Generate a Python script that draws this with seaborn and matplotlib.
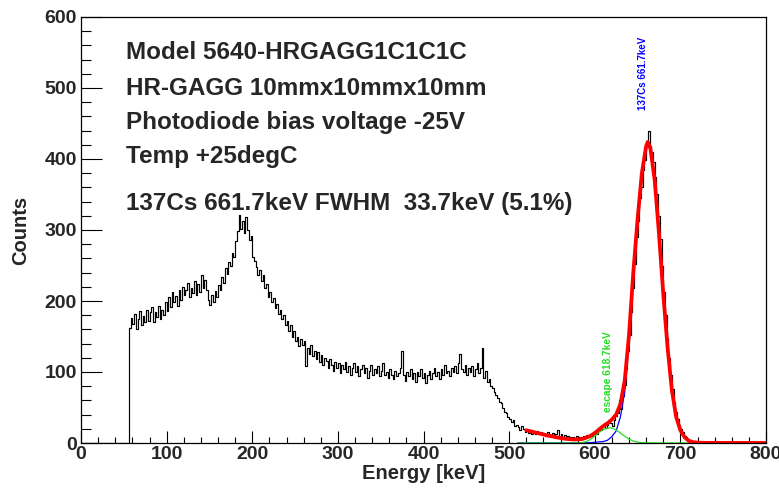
import matplotlib
matplotlib.use("Agg")
import numpy as np
import pandas as pd
import seaborn as sb
import matplotlib.pyplot as plt
from matplotlib.ticker import MultipleLocator

# --------------- 137Cs spectrum, HR-GAGG + photodiode --------------- #
BIN_WIDTH = 2  # keV

# counts per 2 keV bin, 0..800 keV (first 28 bins are empty, below threshold)
counts = [0] * 28 + [
    162, 176, 168, 181, 160, 174, 186, 166, 179, 171,   # 56-76
    188, 172, 184, 192, 170, 185, 178, 193, 174, 188,   # 76-96
    180, 199, 186, 205, 192, 212, 198, 207, 193, 215,   # 96-116
    202, 220, 208, 216, 226, 205, 219, 211, 228, 209,   # 116-136
    224, 213, 236, 218, 230, 215, 202, 194, 208, 198,   # 136-156
    214, 205, 222, 216, 234, 226, 246, 238, 255, 250,   # 156-176
    268, 262, 284, 298, 321, 302, 312, 296, 318, 300,   # 176-196
    286, 292, 262, 256, 248, 236, 244, 228, 236, 218,   # 196-216
    224, 206, 212, 198, 204, 190, 196, 182, 188, 174,   # 216-236
    180, 166, 172, 158, 166, 150, 158, 144, 150, 137,   # 236-256
    146, 138, 144, 108, 134, 126, 138, 122, 130, 118,   # 256-276
    128, 114, 124, 110, 120, 116, 106, 118, 110, 102,   # 276-296
    114, 106, 112, 98, 110, 104, 114, 100, 108, 96,     # 296-316
    106, 112, 100, 108, 94, 104, 110, 98, 106, 92,      # 316-336
    102, 110, 96, 104, 98, 108, 94, 102, 112, 96,       # 336-356
    100, 92, 104, 96, 90, 102, 94, 98, 106, 130,        # 356-376
    96, 88, 100, 94, 104, 90, 98, 86, 100, 94,          # 376-396
    104, 92, 98, 84, 96, 102, 90, 98, 106, 94,          # 396-416
    100, 90, 104, 96, 110, 98, 102, 94, 106, 100,       # 416-436
    108, 98, 112, 126, 104, 100, 110, 96, 106, 100,     # 436-456
    108, 94, 104, 112, 98, 106, 134, 92, 102, 86,       # 456-476
    90, 80, 78, 72, 68, 64, 58, 56, 50, 44,             # 476-496
    42, 36, 34, 30, 32, 24, 26, 22, 18, 24,             # 496-516
    20, 16, 19, 14, 18, 13, 16, 12, 17, 13,             # 516-536
    15, 11, 14, 10, 16, 12, 9, 14, 10, 13,              # 536-556
    18, 9, 12, 8, 11, 7, 10, 8, 6, 9,                   # 556-576
    7, 10, 6, 8, 7, 10, 8, 11, 9, 12,                   # 576-596
    10, 14, 16, 13, 20, 18, 22, 25, 21, 26,             # 596-616
    30, 28, 24, 33, 38, 42, 60, 48, 66, 82,             # 616-636
    104, 130, 152, 185, 218, 252, 290, 312, 345, 360,   # 636-656
    385, 398, 425, 440, 418, 410, 396, 375, 350, 320,   # 656-676
    288, 250, 212, 180, 148, 120, 96, 76, 58, 44,       # 676-696
    34, 26, 20, 15, 10, 8, 5, 4, 3, 2,                  # 696-716
    3, 1, 2, 1, 0, 1, 0, 2, 0, 1,                       # 716-736
    0, 1, 0, 0, 1, 0, 2, 0, 1, 0, 0, 1, 0, 0, 1, 0,     # 736-768
    0, 1, 0, 0, 0, 1, 0, 0, 0, 1, 0, 0, 0, 1, 0, 0,     # 768-800
]

# total fit (background + escape + photopeak)
fit_e = [520, 525, 530, 535, 540, 545, 550, 555, 560, 565, 570, 575, 580,
         585, 590, 595, 600, 605, 610, 615, 620, 625, 630, 635, 640, 645,
         650, 655, 660, 662, 665, 670, 675, 680, 685, 690, 695, 700, 705,
         710, 715, 720, 730, 760, 800]
fit_c = [18, 16.5, 15, 13.5, 12, 10.5, 9.5, 8, 7, 6, 5.5, 5, 5,
         5.5, 7.5, 10, 14, 19, 24, 28, 33, 40, 55, 88, 152, 240,
         315, 380, 418, 424, 415, 370, 295, 210, 135, 75, 37, 18, 8,
         3, 1.2, 0.5, 0.2, 0.1, 0.1]

# photopeak gaussian component (blue)
peak_e = [510, 550, 585, 590, 595, 600, 605, 610, 615, 620, 625, 630, 635,
          640, 645, 650, 655, 660, 662, 665, 670, 675, 680, 685, 690, 695,
          700, 705, 710, 715, 720]
peak_c = [0, 0, 0, 0.2, 0.5, 1, 1.5, 2, 4, 9, 17, 37, 72,
          140, 228, 308, 372, 414, 420, 411, 366, 292, 207, 132, 72, 35,
          16, 7, 2.5, 0.8, 0.2]

# escape peak gaussian component (green)
esc_e = [510, 550, 580, 585, 590, 595, 600, 605, 610, 615, 618, 620, 625,
         630, 635, 640, 645, 650, 655, 660, 680, 710]
esc_c = [0, 0, 0, 0.5, 2, 5, 10, 15, 19, 21, 21.5, 21, 18.5,
         14, 9.5, 5.5, 2.8, 1.2, 0.5, 0.2, 0, 0]

info_lines = ["Model 5640-HRGAGG1C1C1C",
              "HR-GAGG 10mmx10mmx10mm",
              "Photodiode bias voltage -25V",
              "Temp +25degC",
              "137Cs 661.7keV FWHM  33.7keV (5.1%)"]
info_y = [550, 499, 452, 403, 338]

edges = [float(BIN_WIDTH * i) for i in range(len(counts) + 1)]
spec = pd.DataFrame({"energy": [e + BIN_WIDTH / 2 for e in edges[:-1]],
                     "counts": counts})

sb.set_style("white")
plt.rcParams['font.family'] = ['Liberation Sans', 'DejaVu Sans']

fig = plt.figure(figsize=(7.79, 4.88), dpi=100)
ax = fig.add_axes([81 / 779, 45 / 488, 685 / 779, 426 / 488])

sb.histplot(data=spec, x="energy", weights="counts", bins=edges,
            element="step", fill=False, color="black", linewidth=0.85, ax=ax)
sb.lineplot(x=peak_e, y=peak_c, color="#0000ff", linewidth=0.9,
            errorbar=None, ax=ax)
sb.lineplot(x=esc_e, y=esc_c, color="#22dd22", linewidth=0.9,
            errorbar=None, ax=ax)
sb.lineplot(x=fit_e, y=fit_c, color="#ff0000", linewidth=2.7,
            errorbar=None, ax=ax)

ax.set_xlim(0, 800)
ax.set_ylim(0, 600)
ax.xaxis.set_major_locator(MultipleLocator(100))
ax.xaxis.set_minor_locator(MultipleLocator(20))
ax.yaxis.set_major_locator(MultipleLocator(100))
ax.yaxis.set_minor_locator(MultipleLocator(20))
ax.tick_params(axis="both", which="both", direction="in", top=False,
               right=False, bottom=True, left=True, color="black",
               width=0.8, labelsize=14)
ax.tick_params(axis="x", which="major", length=8.6, pad=2)
ax.tick_params(axis="x", which="minor", length=4.3)
ax.tick_params(axis="y", which="major", length=15, pad=3)
ax.tick_params(axis="y", which="minor", length=7)
for lab in ax.get_xticklabels() + ax.get_yticklabels():
    lab.set_fontweight("bold")
for sp in ax.spines.values():
    sp.set_color("black")
    sp.set_linewidth(0.9)

ax.set_xlabel("Energy [keV]", fontsize=14.5, fontweight="bold", labelpad=1)
ax.set_ylabel("Counts", fontsize=14.5, fontweight="bold", labelpad=10)

for txt, y in zip(info_lines, info_y):
    ax.text(52, y, txt, fontsize=17.5, fontweight="bold", va="center",
            ha="left")

ax.text(656.5, 521, "137Cs 661.7keV", color="#0000ff", fontsize=7,
        fontweight="bold", rotation=90, ha="center", va="center")
ax.text(615.5, 100, "escape 618.7keV", color="#22dd22", fontsize=7.3,
        fontweight="bold", rotation=90, ha="center", va="center")

fig.savefig("out.png", dpi=100)
